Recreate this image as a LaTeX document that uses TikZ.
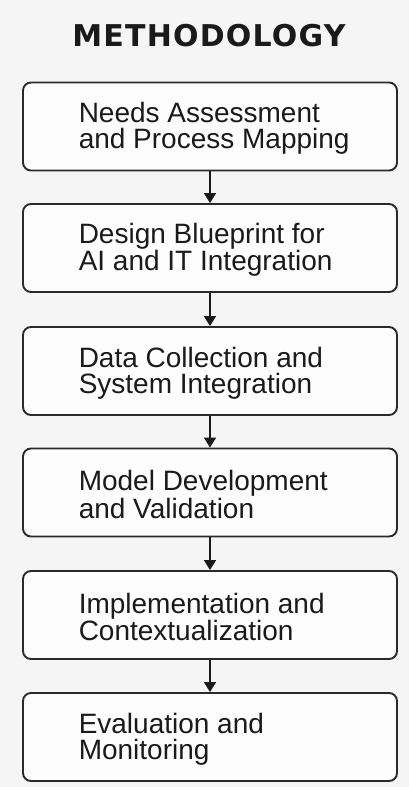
\documentclass[tikz,border=0pt]{standalone}
\usepackage{fontspec}
\setmainfont{Liberation Sans}
\newfontfamily\headfont[LetterSpace=4]{DejaVu Sans}
\usetikzlibrary{arrows.meta}

\definecolor{pagebg}{HTML}{F5F5F5}
\definecolor{boxfill}{HTML}{FDFDFD}
\definecolor{ink}{HTML}{1A1A1A}
\definecolor{edge}{HTML}{2A2A2A}

\begin{document}
\begin{tikzpicture}[x=1pt, y=-1pt,
  stepbox/.style={draw=edge, line width=1.9pt, fill=boxfill, rounded corners=8pt,
    minimum width=374pt, minimum height=88pt, inner sep=0pt},
  steplabel/.style={anchor=west, align=left, inner sep=0pt, text=ink,
    font=\fontsize{28}{26}\selectfont},
  flow/.style={draw=ink, line width=1.7pt, -{Triangle[width=12pt,length=10pt]}},
  heading/.style={text=ink, inner sep=0pt,
    font=\headfont\fontsize{30}{30}\selectfont\bfseries}
]
  % page
  \fill[pagebg] (0,0) rectangle (409,787);
  \useasboundingbox (0,0) rectangle (409,787);

  % title
  \node[heading, anchor=base] (title) at (209,46.5) {METHODOLOGY};

  % step boxes
  \node[stepbox] (s1) at (210,126.5) {};
  \node[stepbox] (s2) at (210,248)   {};
  \node[stepbox] (s3) at (210,371)   {};
  \node[stepbox] (s4) at (210,492.5) {};
  \node[stepbox] (s5) at (210,615)   {};
  \node[stepbox] (s6) at (210,737)   {};

  % step labels
  \node[steplabel] (t1) at ([xshift=56.5pt,yshift=-2pt]s1.west) {Needs Assessment\\and Process Mapping};
  \node[steplabel] (t2) at ([xshift=56.5pt,yshift=-2pt]s2.west) {Design Blueprint for\\AI and IT Integration};
  \node[steplabel] (t3) at ([xshift=56.5pt,yshift=-2pt]s3.west) {Data Collection and\\System Integration};
  \node[steplabel] (t4) at ([xshift=56.5pt,yshift=-2pt]s4.west) {Model Development\\and Validation};
  \node[steplabel] (t5) at ([xshift=56.5pt,yshift=-2pt]s5.west) {Implementation and\\Contextualization};
  \node[steplabel] (t6) at ([xshift=56.5pt,yshift=-2pt]s6.west) {Evaluation and\\Monitoring};

  % connectors
  \draw[flow] (s1.south) -- (s2.north);
  \draw[flow] (s2.south) -- (s3.north);
  \draw[flow] (s3.south) -- (s4.north);
  \draw[flow] (s4.south) -- (s5.north);
  \draw[flow] (s5.south) -- (s6.north);
\end{tikzpicture}
\end{document}
